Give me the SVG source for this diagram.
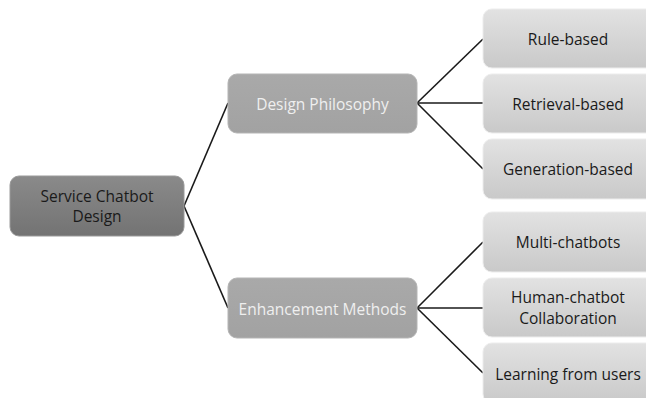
<svg xmlns="http://www.w3.org/2000/svg" width="646" height="398" viewBox="0 0 646 398">
<defs>
<linearGradient id="gDark" x1="0" y1="0" x2="0" y2="1"><stop offset="0" stop-color="#8a8a8a"/><stop offset="1" stop-color="#737373"/></linearGradient>
<linearGradient id="gMid" x1="0" y1="0" x2="0" y2="1"><stop offset="0" stop-color="#a9a9a9"/><stop offset="1" stop-color="#a2a2a2"/></linearGradient>
<linearGradient id="gLight" x1="0" y1="0" x2="0" y2="1"><stop offset="0" stop-color="#e2e2e2"/><stop offset="1" stop-color="#c9c9c9"/></linearGradient>
</defs>
<style>
text{font-family:"Open Sans","Liberation Sans",sans-serif;font-size:15.5px;text-anchor:middle;dominant-baseline:central}
.dark rect{fill:url(#gDark);stroke:#9a9a9a;stroke-width:1}
.mid rect{fill:url(#gMid);stroke:#b5b5b5;stroke-width:1}
.light rect{fill:url(#gLight);stroke:#ececec;stroke-width:1}
.dark text{fill:#1a1a1a}
.mid text{fill:#efefef}
.light text{fill:#1a1a1a}
#connectors line{stroke:#1a1a1a;stroke-width:1.6}
</style>
<rect width="646" height="398" fill="#ffffff"/>
<g id="connectors">
<line x1="184" y1="206" x2="228" y2="103"/>
<line x1="184" y1="206" x2="228" y2="308"/>
<line x1="417" y1="103" x2="483" y2="39"/>
<line x1="417" y1="103" x2="483" y2="103"/>
<line x1="417" y1="103" x2="483" y2="169"/>
<line x1="417" y1="308" x2="483" y2="242"/>
<line x1="417" y1="308" x2="483" y2="308"/>
<line x1="417" y1="308" x2="483" y2="373"/>
</g>
<g id="root" class="dark"><rect x="10" y="176" width="174" height="60" rx="9"/><text x="97" y="196">Service Chatbot</text><text x="97" y="216">Design</text></g>
<g id="design-philosophy" class="mid"><rect x="228" y="74" width="189" height="59" rx="9"/><text x="322.5" y="104">Design Philosophy</text></g>
<g id="enhancement-methods" class="mid"><rect x="228" y="278" width="189" height="60" rx="9"/><text x="322.5" y="309">Enhancement Methods</text></g>
<g id="rule-based" class="light"><rect x="483" y="9" width="175" height="59" rx="9"/><text x="568" y="39">Rule-based</text></g>
<g id="retrieval-based" class="light"><rect x="483" y="74" width="175" height="59" rx="9"/><text x="568" y="104">Retrieval-based</text></g>
<g id="generation-based" class="light"><rect x="483" y="139" width="175" height="60" rx="9"/><text x="568" y="169">Generation-based</text></g>
<g id="multi-chatbots" class="light"><rect x="483" y="212" width="175" height="60" rx="9"/><text x="568" y="242">Multi-chatbots</text></g>
<g id="human-chatbot" class="light"><rect x="483" y="278" width="175" height="59" rx="9"/><text x="568" y="297">Human-chatbot</text><text x="568" y="318">Collaboration</text></g>
<g id="learning-from-users" class="light"><rect x="483" y="343" width="175" height="60" rx="9"/><text x="568" y="374">Learning from users</text></g>
</svg>
